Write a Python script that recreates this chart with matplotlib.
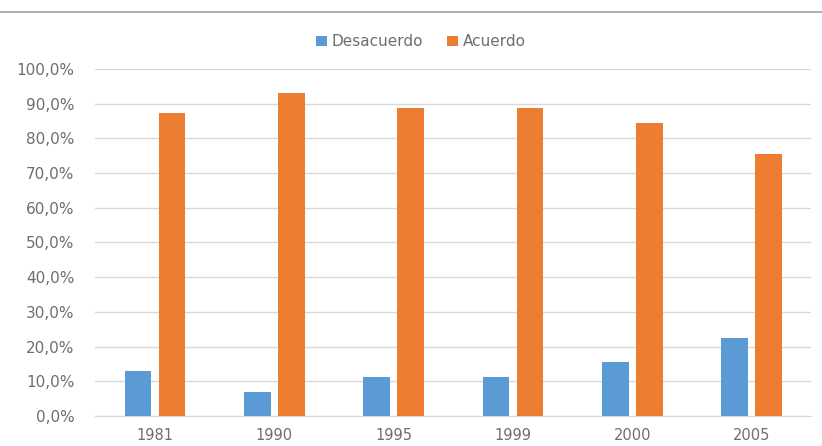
import numpy as np
import matplotlib.pyplot as plt
from matplotlib.ticker import FuncFormatter
from matplotlib.lines import Line2D

years = ['1981', '1990', '1995', '1999', '2000', '2005']
desacuerdo = [13.0, 6.9, 11.2, 11.2, 15.6, 22.5]
acuerdo = [87.3, 93.1, 88.8, 88.8, 84.4, 75.5]

blue = '#5b9bd5'
orange = '#ed7d31'
txt = '#6e6e6e'

fig = plt.figure(figsize=(8.22, 4.46), dpi=100)
ax = fig.add_axes([0.116, 0.0673, 0.871, 0.778])

x = np.arange(len(years))
w = 0.225
gap = 0.06
ax.bar(x - (w + gap) / 2, desacuerdo, w, color=blue, label='Desacuerdo', zorder=3)
ax.bar(x + (w + gap) / 2, acuerdo, w, color=orange, label='Acuerdo', zorder=3)

ax.set_xlim(-0.5, len(years) - 0.5)
ax.set_ylim(0, 100)
ax.set_yticks(np.arange(0, 101, 10))
ax.yaxis.set_major_formatter(FuncFormatter(lambda v, p: f'{v:.1f}%'.replace('.', ',')))
ax.set_xticks(x)
ax.set_xticklabels(years)

ax.grid(axis='y', color='#d9d9d9', linewidth=1, zorder=0)
for s in ['top', 'right', 'left']:
    ax.spines[s].set_visible(False)
ax.spines['bottom'].set_color('#d9d9d9')
ax.tick_params(length=0, colors=txt, labelsize=11)
ax.tick_params(axis='y', pad=15)
ax.tick_params(axis='x', pad=9, labelsize=10.5)

fig.legend(*ax.get_legend_handles_labels(), loc='center', bbox_to_anchor=(0.512, 0.906),
           ncol=2, frameon=False, fontsize=11, labelcolor=txt, handlelength=0.7,
           handleheight=0.7, handletextpad=0.3, columnspacing=1.6)

# thin rule across the top of the figure
fig.add_artist(Line2D([0, 1], [1 - 12 / 446, 1 - 12 / 446], color='#a0a0a0', linewidth=1.2))

fig.savefig('out.png', dpi=100)
